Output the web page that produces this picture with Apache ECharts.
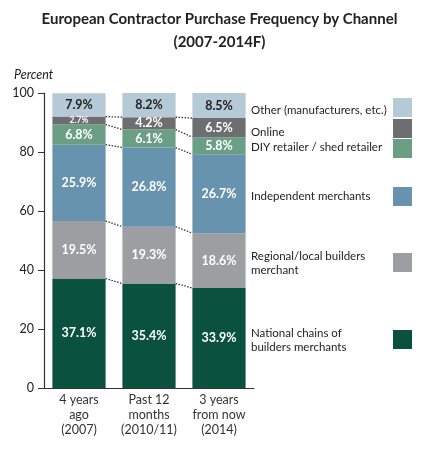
<!DOCTYPE html>
<html>
<head>
<meta charset="utf-8">
<script src="https://cdn.jsdelivr.net/npm/echarts@6/dist/echarts.min.js"></script>
<style>
  html, body { margin: 0; padding: 0; background: #fff; }
  #chart { width: 439px; height: 450px; }
</style>
</head>
<body>
<div id="chart"></div>
<script>
// data
var categories = ['4 years\nago\n(2007)', 'Past 12\nmonths\n(2010/11)', '3 years\nfrom now\n(2014)'];
var seriesNames = ['National chains of builders merchants', 'Regional/local builders merchant',
  'Independent merchants', 'DIY retailer / shed retailer', 'Online', 'Other (manufacturers, etc.)'];
var national = [37.1, 35.4, 33.9];
var regional = [19.5, 19.3, 18.6];
var independent = [25.9, 26.8, 26.7];
var diy = [6.8, 6.1, 5.8];
var online = [2.7, 4.2, 6.5];
var other = [7.9, 8.2, 8.5];
var yTicks = [0, 20, 40, 60, 80, 100];

var colors = ['#0b5140', '#9d9ea2', '#6893ae', '#6a9f86', '#6d6e70', '#b6c9d7'];
var labelColors = ['#fff', '#fff', '#fff', '#fff', '#fff', '#222'];
var allValues = [national, regional, independent, diy, online, other];
var BAR_W = 0.76;
var FONT = 'Lato';

var myChart = echarts.init(document.getElementById('chart'));

var barSeries = allValues.map(function (vals, s) {
  return {
    name: seriesNames[s],
    type: 'bar',
    stack: 'total',
    barWidth: (BAR_W * 100) + '%',
    itemStyle: { color: colors[s] },
    data: vals.map(function (v) {
      return {
        value: v,
        label: { fontSize: v < 3 ? 8.5 : 12.5 }
      };
    }),
    label: {
      show: true,
      position: 'inside',
      color: labelColors[s],
      fontFamily: FONT,
      fontWeight: 'bold',
      formatter: function (p) { return p.value.toFixed(1) + '%'; }
    }
  };
});

// dotted connectors between stack boundaries of neighbouring bars
var connectors = [];
for (var i = 0; i < categories.length - 1; i++) {
  var cumA = 0, cumB = 0;
  for (var s = 0; s < allValues.length - 1; s++) {
    cumA += allValues[s][i];
    cumB += allValues[s][i + 1];
    connectors.push([i, cumA, cumB]);
  }
}

barSeries.push({
  type: 'custom',
  z: 5,
  silent: true,
  encode: { x: 0, y: 1 },
  data: connectors,
  renderItem: function (params, api) {
    var p1 = api.coord([api.value(0), api.value(1)]);
    var p2 = api.coord([api.value(0) + 1, api.value(2)]);
    var half = api.size([1, 0])[0] * BAR_W / 2;
    return {
      type: 'line',
      shape: { x1: p1[0] + half, y1: p1[1], x2: p2[0] - half, y2: p2[1] },
      style: { stroke: '#333', lineWidth: 1.3, lineDash: [1.5, 1.5] }
    };
  }
});

// legend drawn at the right, matched to the layout of the original
var legendRows = [
  { s: 5, text: 'Other (manufacturers, etc.)', cy: 110, ry: 98 },
  { s: 4, text: 'Online', cy: 132, ry: 119 },
  { s: 3, text: 'DIY retailer / shed retailer', cy: 147, ry: 139 },
  { s: 2, text: 'Independent merchants', cy: 196, ry: 187 },
  { s: 1, text: 'Regional/local builders\nmerchant', cy: 263, ry: 253 },
  { s: 0, text: 'National chains of\nbuilders merchants', cy: 340, ry: 330 }
];
var graphics = [{
  type: 'text', left: 14, top: 68,
  style: { text: 'Percent', font: 'italic 12.5px ' + FONT, fill: '#222' }
}];
legendRows.forEach(function (r) {
  var lines = r.text.split('\n').length;
  graphics.push({
    type: 'text', left: 251, top: r.cy - 7 * lines,
    style: { text: r.text, font: '11.5px ' + FONT, fill: '#222', lineHeight: 14 }
  });
  graphics.push({
    type: 'rect', left: 393, top: r.ry,
    shape: { width: 19, height: 19 },
    style: { fill: colors[r.s] }
  });
});

var option = {
  animation: false,
  title: {
    text: 'European Contractor Purchase Frequency by Channel\n(2007-2014F)',
    left: 'center',
    top: 3,
    textStyle: {
      fontFamily: FONT, fontSize: 15, fontWeight: 'bold',
      color: '#222', lineHeight: 23
    }
  },
  grid: { left: 44, right: 185, top: 93, bottom: 62 },
  xAxis: {
    type: 'category',
    data: categories,
    axisLine: { lineStyle: { color: '#333', width: 1.2 } },
    axisTick: { show: false },
    axisLabel: {
      color: '#333', fontFamily: FONT, fontSize: 12.5,
      lineHeight: 15, margin: 4, interval: 0
    }
  },
  yAxis: {
    type: 'value',
    min: yTicks[0],
    max: yTicks[yTicks.length - 1],
    interval: yTicks[1] - yTicks[0],
    splitLine: { show: false },
    axisLine: { show: true, lineStyle: { color: '#333', width: 1.2 } },
    axisTick: { show: true, length: 6, lineStyle: { color: '#333' } },
    axisLabel: { color: '#222', fontFamily: FONT, fontSize: 12.5, margin: 10 }
  },
  graphic: graphics,
  series: barSeries
};
myChart.setOption(option);
</script>
</body>
</html>
